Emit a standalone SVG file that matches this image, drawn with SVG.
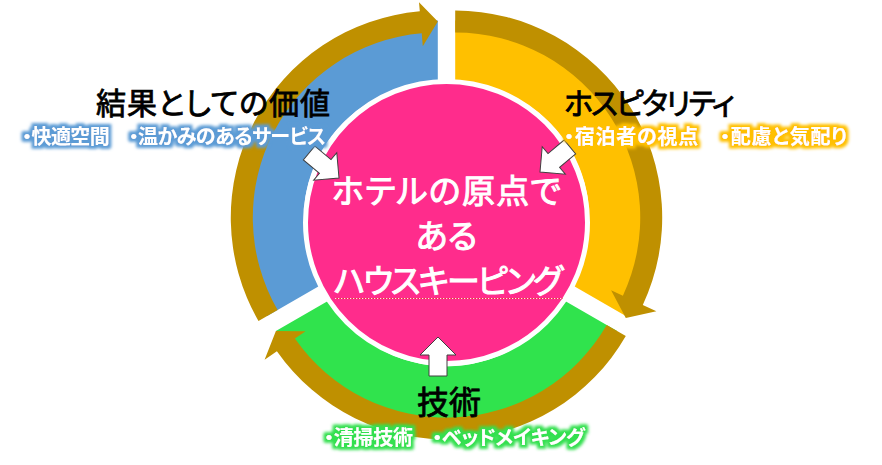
<svg xmlns="http://www.w3.org/2000/svg" width="882" height="465" viewBox="0 0 882 465">
<defs>
<style>
.gold{fill:#BF9000}
.title{font-family:"Noto Sans CJK JP","Noto Sans",sans-serif;font-size:30px;fill:#000;stroke:#000;stroke-width:0.8;font-feature-settings:"palt"}
.sub{font-family:"Noto Sans CJK JP","Noto Sans",sans-serif;font-size:20px;font-weight:bold;fill:#fff;font-feature-settings:"palt"}
.ctext{font-family:"Noto Sans CJK JP","Noto Sans",sans-serif;font-size:33px;fill:#fff;stroke:#fff;stroke-width:1;text-anchor:middle;font-feature-settings:"palt"}
.arrow{fill:#fff;stroke:#404040;stroke-width:1}
</style>
<filter id="glowBlue" x="-10%" y="-60%" width="120%" height="220%">
<feMorphology in="SourceAlpha" operator="dilate" radius="3" result="d"/>
<feGaussianBlur in="d" stdDeviation="1.6" result="b"/>
<feFlood flood-color="#5B9BD5"/>
<feComposite in2="b" operator="in" result="g"/>
<feMerge><feMergeNode in="g"/><feMergeNode in="SourceGraphic"/></feMerge>
</filter>
<filter id="glowYellow" x="-10%" y="-60%" width="120%" height="220%">
<feMorphology in="SourceAlpha" operator="dilate" radius="3" result="d"/>
<feGaussianBlur in="d" stdDeviation="1.6" result="b"/>
<feFlood flood-color="#FFC000"/>
<feComposite in2="b" operator="in" result="g"/>
<feMerge><feMergeNode in="g"/><feMergeNode in="SourceGraphic"/></feMerge>
</filter>
<filter id="glowGreen" x="-10%" y="-60%" width="120%" height="220%">
<feMorphology in="SourceAlpha" operator="dilate" radius="3" result="d"/>
<feGaussianBlur in="d" stdDeviation="1.6" result="b"/>
<feFlood flood-color="#33E04F"/>
<feComposite in2="b" operator="in" result="g"/>
<feMerge><feMergeNode in="g"/><feMergeNode in="SourceGraphic"/></feMerge>
</filter>
<path id="barrow" d="M0,-9 L21,-9 L21,-18 L39,0 L21,18 L21,9 L0,9 Z"/>
</defs>
<rect width="882" height="465" fill="#fff"/>

<g id="seg-blue">
<path fill="#5B9BD5" d="M267.2,316 A197,197 0 0 1 437.8,20.5 L437.8,83.5 A134,134 0 0 0 321.8,284.5 Z"/>
<path class="gold" d="M258.5,321 A207,207 0 0 1 419.8,11.3 L419.0,2.3 L437.8,21.5 L422.8,46.2 L421.7,33.2 A185,185 0 0 0 277.6,310 Z"/>
</g>
<g id="seg-yellow">
<path fill="#FFC000" d="M455.2,20.5 A197,197 0 0 1 625.8,316 L571.2,284.5 A134,134 0 0 0 455.2,83.5 Z"/>
<path class="gold" d="M455.2,10.5 A207,207 0 0 1 642.8,305 L656.4,311.3 L625.8,318 L611.1,290.2 L622.9,295.7 A185,185 0 0 0 455.2,32.5 Z"/>
</g>
<g id="seg-green">
<path fill="#30E34D" d="M617.1,331 A197,197 0 0 1 275.9,331 L330.5,299.5 A134,134 0 0 0 562.5,299.5 Z"/>
<path class="gold" d="M625.8,336 A207,207 0 0 1 276.9,351.2 L264.6,359.8 L275.9,331 L305.6,331.2 L294.9,338.6 A185,185 0 0 0 606.7,325 Z"/>
</g>

<g id="center">
<circle cx="446.5" cy="222.5" r="141" fill="#FF2C8C" stroke="#fff" stroke-width="5"/>
<text class="ctext" x="446.5" y="203" textLength="229">ホテルの原点で</text>
<text class="ctext" x="446.5" y="248">ある</text>
<text class="ctext" x="448.5" y="293" textLength="229">ハウスキーピング</text>
<path d="M335,298.5 h228" fill="none" stroke="#FFE0E8" stroke-width="1.2" stroke-dasharray="1.5,1.5"/>
<path d="M336.5,298.5 h226" fill="none" stroke="#E53935" stroke-width="1" stroke-dasharray="1.5,1.5"/>
</g>

<g id="connectors">
<use href="#barrow" class="arrow" transform="translate(339,178) rotate(40) translate(-39,0)"/>
<use href="#barrow" class="arrow" transform="translate(540,172) rotate(140) translate(-39,0)"/>
<use href="#barrow" class="arrow" transform="translate(438,337) rotate(-90) translate(-39,0)"/>
</g>

<g id="label-value">
<text class="title" x="96" y="114" textLength="234">結果としての価値</text>
<text class="sub" x="22" y="144" textLength="304" filter="url(#glowBlue)">・快適空間　・温かみのあるサービス</text>
</g>
<g id="label-hospitality">
<text class="title" x="564" y="114" textLength="171">ホスピタリティ</text>
<text class="sub" x="564" y="144" textLength="283" filter="url(#glowYellow)">・宿泊者の視点　・配慮と気配り</text>
</g>
<g id="label-skill">
<text class="title" x="449" y="414" text-anchor="middle" style="font-size:32px">技術</text>
<text class="sub" x="324" y="445" textLength="261" filter="url(#glowGreen)">・清掃技術　・ベッドメイキング</text>
</g>
</svg>
